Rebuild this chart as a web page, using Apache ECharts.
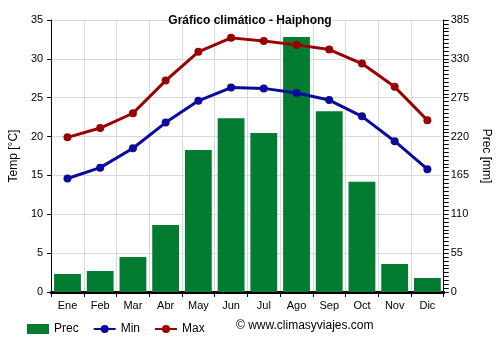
<!DOCTYPE html>
<html><head><meta charset="utf-8">
<script src="https://cdn.jsdelivr.net/npm/echarts@6/dist/echarts.min.js"></script>
<style>html,body{margin:0;padding:0;background:#fff}#c{width:500px;height:350px}</style>
</head><body><div id="c"></div>
<script>
const months = ['Ene','Feb','Mar','Abr','May','Jun','Jul','Ago','Sep','Oct','Nov','Dic'];
const prec = [25.5, 29.7, 49.5, 94.8, 201, 246, 225, 361, 256, 156, 39.6, 19.8];
const tmin = [14.6, 16.0, 18.5, 21.8, 24.6, 26.3, 26.2, 25.6, 24.7, 22.6, 19.4, 15.8];
const tmax = [19.9, 21.1, 23.0, 27.2, 30.9, 32.7, 32.3, 31.8, 31.2, 29.4, 26.4, 22.1];

const font = 'Liberation Sans, Arial, sans-serif';
const chart = echarts.init(document.getElementById('c'));
chart.setOption({
  animation: false,
  textStyle: {fontFamily: font},
  title: {text: 'Gráfico climático - Haiphong', left: 'center', top: 10,
    textStyle: {fontSize: 12, fontWeight: 'bold', color: '#000', fontFamily: font}},
  grid: {left: 49, right: 54, top: 20, bottom: 58},
  legend: {left: 22, top: 318, itemWidth: 22, itemHeight: 10, itemGap: 14,
    textStyle: {fontSize: 12, color: '#000', fontFamily: font},
    data: [{name: 'Prec', icon: 'rect'}, {name: 'Min'}, {name: 'Max'}]},
  graphic: [{type: 'text', left: 236, top: 320,
    style: {text: '© www.climasyviajes.com', fontSize: 12, fill: '#000', fontFamily: font}}],
  xAxis: {type: 'category', data: months, boundaryGap: true,
    axisLine: {lineStyle: {color: '#000', width: 3}},
    axisTick: {show: true, length: 5, lineStyle: {color: '#000'}, alignWithLabel: false},
    axisLabel: {fontSize: 11, color: '#000', margin: 8},
    splitLine: {show: true, lineStyle: {color: '#d9d9d9'}}},
  yAxis: [
    {type: 'value', min: 0, max: 35, interval: 5, name: 'Temp [°C]', nameLocation: 'middle', nameGap: 30,
      nameTextStyle: {fontSize: 12, color: '#000'},
      axisLine: {show: true, lineStyle: {color: '#000'}},
      axisTick: {show: true, length: 4, lineStyle: {color: '#000'}},
      axisLabel: {fontSize: 11, color: '#000'},
      splitLine: {lineStyle: {color: '#d9d9d9'}}},
    {type: 'value', min: 0, max: 385, interval: 55, name: 'Prec [mm]', nameLocation: 'middle', nameGap: 35,
      nameRotate: -90, position: 'right',
      nameTextStyle: {fontSize: 12, color: '#000'},
      axisLine: {show: true, lineStyle: {color: '#000'}},
      axisTick: {show: true, length: 5, lineStyle: {color: '#000'}},
      minorTick: {show: true, splitNumber: 10, length: 5, lineStyle: {color: '#000'}},
      axisLabel: {fontSize: 11, color: '#000', margin: 7},
      splitLine: {show: false}}
  ],
  series: [
    {name: 'Prec', type: 'bar', yAxisIndex: 1, data: prec, barCategoryGap: '18%',
      itemStyle: {color: '#037c31'}},
    {name: 'Min', type: 'line', yAxisIndex: 0, data: tmin, symbol: 'circle', symbolSize: 8,
      lineStyle: {color: '#0a0a9c', width: 3}, itemStyle: {color: '#0a0a9c'}},
    {name: 'Max', type: 'line', yAxisIndex: 0, data: tmax, symbol: 'circle', symbolSize: 8,
      lineStyle: {color: '#990000', width: 3}, itemStyle: {color: '#990000'}}
  ]
});
</script></body></html>
